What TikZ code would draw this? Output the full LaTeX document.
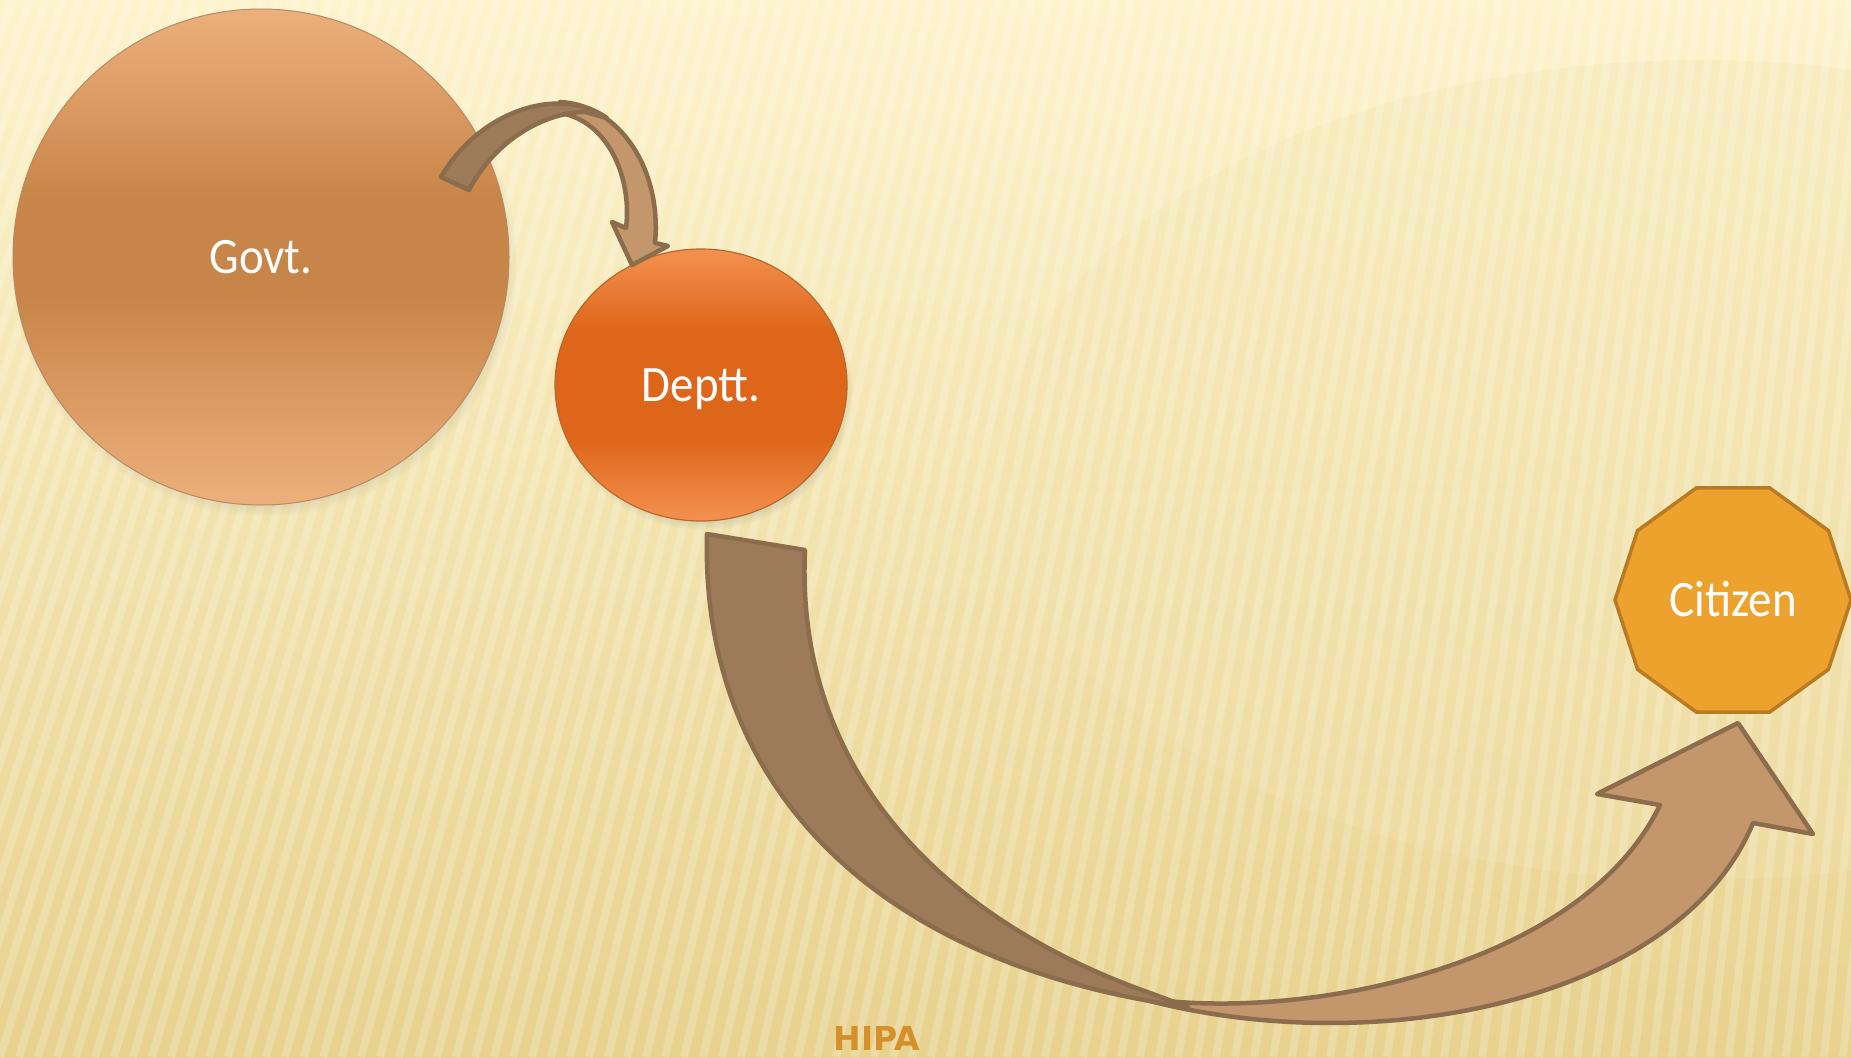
\documentclass[tikz,border=0pt]{standalone}
\usepackage{fontspec}
\newfontfamily\labelfont[FakeStretch=0.92]{Carlito}
\newfontfamily\brandfont{DejaVu Sans}
\usetikzlibrary{shapes.geometric, shadows}
\usepackage{xcolor}
\definecolor{bgtop}{RGB}{253, 243, 204}
\definecolor{bgbot}{RGB}{231, 210, 142}
\definecolor{govtlight}{RGB}{237, 176, 124}
\definecolor{govtmid}{RGB}{200, 133, 73}
\definecolor{govtline}{RGB}{181, 138, 102}
\definecolor{deptlight}{RGB}{244, 145, 80}
\definecolor{deptmid}{RGB}{222, 102, 26}
\definecolor{deptline}{RGB}{184, 104, 42}
\definecolor{citfill}{RGB}{238, 162, 46}
\definecolor{citline}{RGB}{184, 123, 34}
\definecolor{arrdark}{RGB}{157, 123, 90}
\definecolor{arrlight}{RGB}{196, 150, 108}
\definecolor{arrline}{RGB}{139, 108, 76}
\definecolor{hipacolor}{RGB}{214, 143, 42}
\pgfdeclareverticalshading{govtshade}{100bp}{color(0bp)=(govtlight); color(25bp)=(govtlight);
  color(46bp)=(govtmid); color(56bp)=(govtmid); color(75bp)=(govtlight); color(100bp)=(govtlight)}
\pgfdeclareverticalshading{deptshade}{100bp}{color(0bp)=(deptlight); color(25bp)=(deptlight);
  color(40bp)=(deptmid); color(60bp)=(deptmid); color(75bp)=(deptlight); color(100bp)=(deptlight)}

\begin{document}
\begin{tikzpicture}[x=1pt, y=-1pt,
      bubble/.style={circle, inner sep=0pt, text=white, text height=33pt, text depth=0pt,
                     font=\labelfont\fontsize{51}{60}\selectfont},
      softshadow/.style={circular drop shadow={shadow xshift=3pt, shadow yshift=-6pt,
                     shadow scale=1.02, opacity=.45}},
      band/.style={draw=arrline, line width=4.5pt, line join=round},
      stripe/.style={white, line width=8pt, opacity=.2}]
    \useasboundingbox (0,0) rectangle (1851,1057);
    % background
    \begin{scope}
      \clip (0,0) rectangle (1851,1057);
      \shade[top color=bgtop, bottom color=bgbot] (0,0) rectangle (1851,1057);
      \shade[top color=bgbot, bottom color=bgtop, opacity=.15] (1700,470) ellipse [x radius=700, y radius=410];
      \foreach \i in {-30,...,100}
        \draw[stripe] ({\i*19},1057) -- ({\i*19+330-\i*2.3},0);
    \end{scope}

    \node[bubble, minimum size=496pt, draw=govtline, line width=1pt, softshadow,
          shade, shading=govtshade] (govt) at (261,257) {Govt.};
    \node[bubble, ellipse, minimum width=292pt, minimum height=272pt, draw=deptline, line width=1.2pt, softshadow,
          shade, shading=deptshade] (deptt) at (701,385) {Deptt.};
    \node[bubble, regular polygon, regular polygon sides=10, minimum size=236pt,
          fill=citfill, draw=citline, line width=3.5pt] (citizen) at (1733,600) {Citizen};

    % govt -> deptt
    \filldraw[band, fill=arrlight] (560,102) .. controls (620,105) and (662,170) .. (655,243)
      -- (668,246) -- (632,265) -- (612,222) -- (626,228)
      .. controls (632,180) and (610,125) .. (565,114) -- cycle;
    \filldraw[band, fill=arrdark] (441,177) .. controls (480,110) and (560,85) .. (607,118)
      -- (585,112) .. controls (545,112) and (495,140) .. (469,190) -- cycle;

    % deptt -> citizen
    \filldraw[band, fill=arrlight] (1150,999) .. controls (1300,1020) and (1580,970) .. (1660,805)
      -- (1597,794) -- (1738,723) -- (1813,834) -- (1753,823)
      .. controls (1680,1000) and (1380,1060) .. (1150,1001) -- cycle;
    \filldraw[band, fill=arrdark] (707,534) .. controls (700,790) and (880,965) .. (1188,1007)
      -- (1150,993) .. controls (930,915) and (795,760) .. (805,550) -- cycle;

    \node[anchor=base, text=hipacolor, font=\brandfont\bfseries\fontsize{33}{40}\selectfont] (hipa) at (877,1050) {HIPA};
  \end{tikzpicture}
\end{document}
